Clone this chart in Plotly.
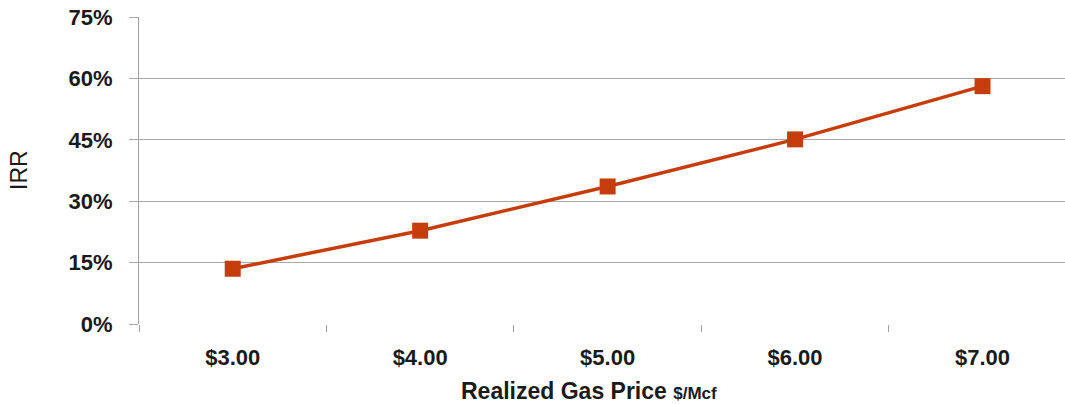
import plotly.graph_objects as go

categories = ["$3.00", "$4.00", "$5.00", "$6.00", "$7.00"]
irr_pct = [13.5, 22.8, 33.6, 45.1, 58.1]
y_ticks = [0, 15, 30, 45, 60, 75]
y_tick_labels = ["0%", "15%", "30%", "45%", "60%", "75%"]

W, H = 1065, 404
L, R, T, B = 139, 0, 17, 80

fig = go.Figure()
fig.add_trace(go.Scatter(
    x=categories, y=irr_pct, mode="lines+markers",
    line=dict(color="#C63D0C", width=3.5),
    marker=dict(symbol="square", size=16, color="#C63D0C"),
    showlegend=False,
))

font_family = "Liberation Sans, Arial, sans-serif"
fig.update_layout(
    width=W, height=H,
    margin=dict(l=L, r=R, t=T, b=B),
    paper_bgcolor="white", plot_bgcolor="white",
    font=dict(family=font_family, color="#1a1a1a"),
    xaxis=dict(
        type="category", range=[-0.5, 4.44],
        showgrid=False, zeroline=False, showline=False,
        ticks="outside", tickson="boundaries", ticklen=7, tickcolor="#a0a0a0", tickwidth=1,
        tickfont=dict(size=22, family=font_family, color="#1a1a1a", weight="bold"),
        ticklabelstandoff=18,
    ),
    yaxis=dict(
        range=[0, 75], tickvals=y_ticks, ticktext=y_tick_labels,
        showgrid=True, gridcolor="#a8a8a8", gridwidth=1,
        zeroline=False, showline=True, linecolor="#a0a0a0", linewidth=1,
        ticks="outside", ticklen=9, tickcolor="#a8a8a8",
        tickfont=dict(size=22, family=font_family, color="#1a1a1a", weight="bold"),
        ticklabelstandoff=12,
    ),
)

fig.add_annotation(
    text="IRR", xref="paper", yref="paper",
    x=-(L - 19) / (W - L - R), y=(H - B - 170) / (H - T - B),
    xanchor="center", yanchor="middle", textangle=-90, showarrow=False,
    font=dict(size=23, family=font_family, color="#1a1a1a"),
)
fig.add_annotation(
    text="<b>Realized Gas Price <span style='font-size:17px'>$/Mcf</span></b>",
    xref="paper", yref="paper",
    x=(589 - L) / (W - L - R), y=-(391 - (H - B)) / (H - T - B),
    xanchor="center", yanchor="middle", showarrow=False,
    font=dict(size=23, family=font_family, color="#1a1a1a"),
)

fig.write_html("out.html")
